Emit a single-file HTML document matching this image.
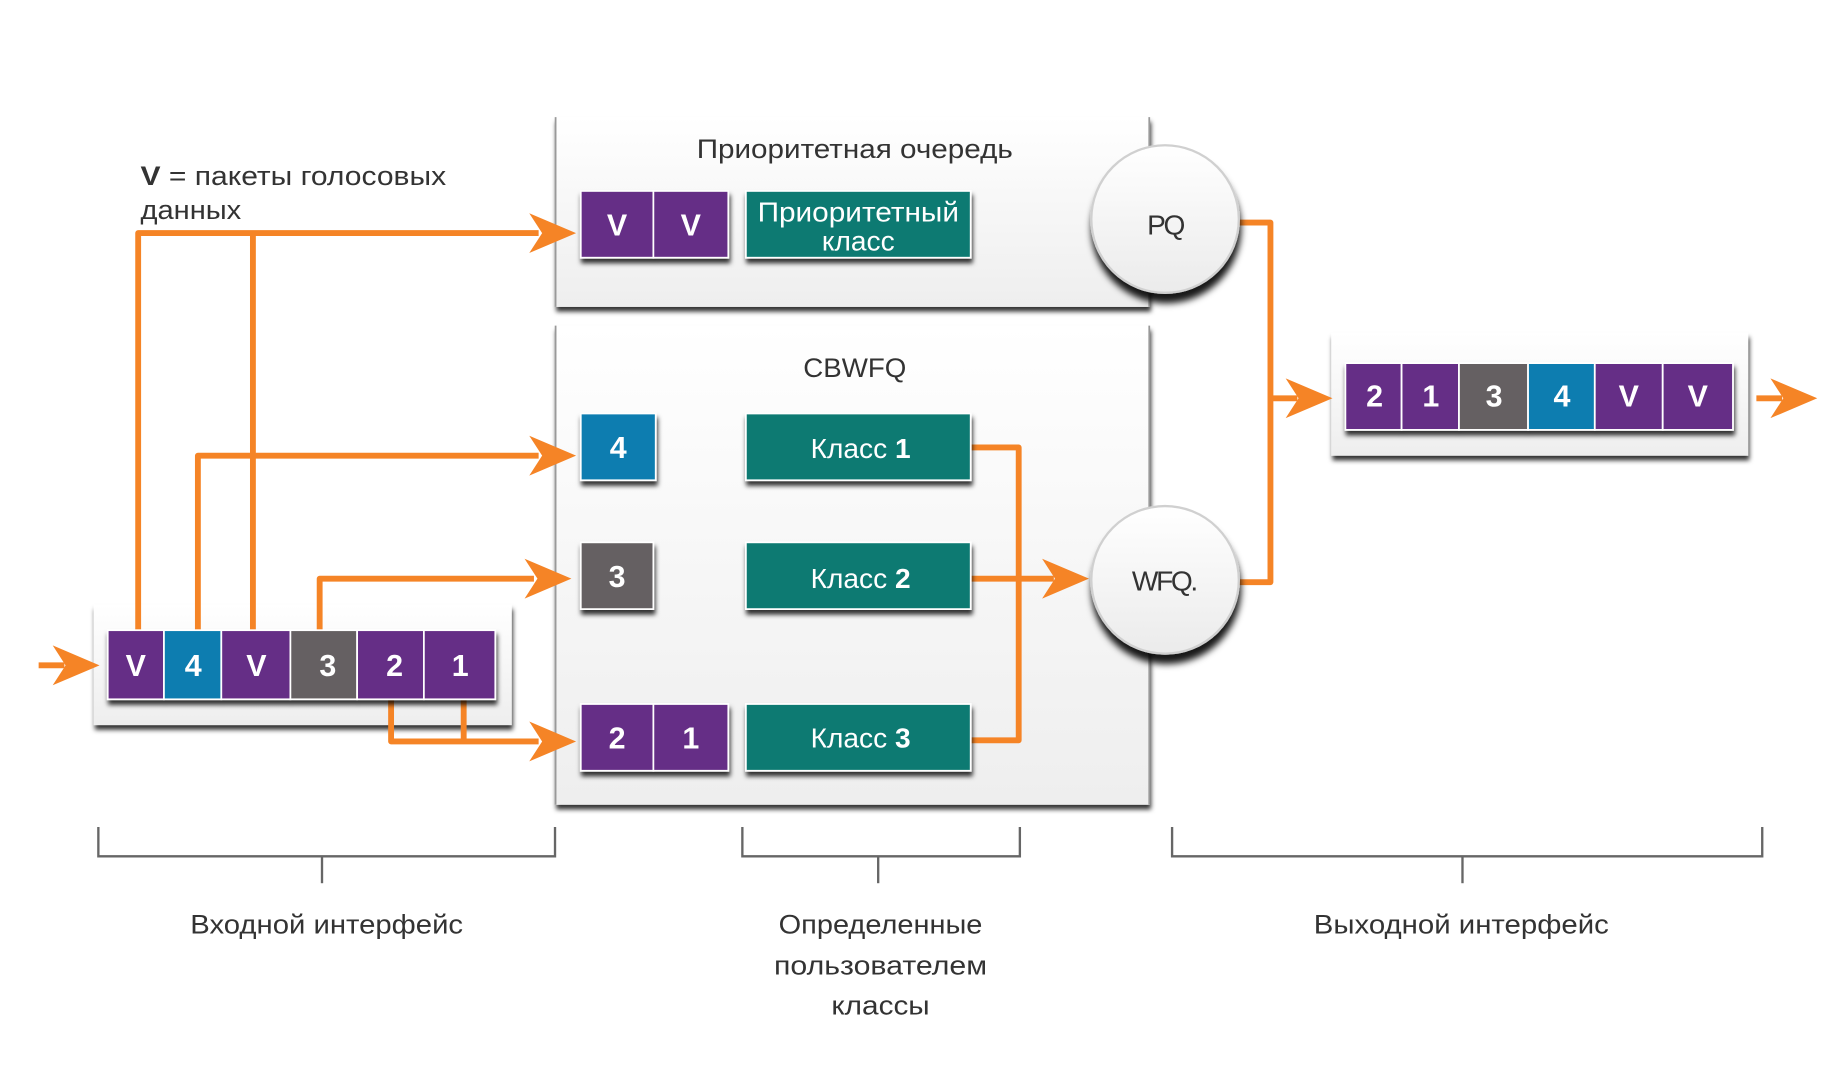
<!DOCTYPE html>
<html><head><meta charset="utf-8"><style>
html,body{margin:0;padding:0;background:#fff;}
svg{display:block;}
text{font-family:"Liberation Sans","DejaVu Sans",sans-serif;}
</style></head><body>
<svg width="1836" height="1080" viewBox="0 0 1568 922" preserveAspectRatio="none" xmlns="http://www.w3.org/2000/svg">
<defs>
<linearGradient id="pg" x1="0" y1="0" x2="0" y2="1"><stop offset="0" stop-color="#ffffff"/><stop offset="1" stop-color="#eeeeee"/></linearGradient>
<linearGradient id="cg" x1="0" y1="0" x2="0" y2="1"><stop offset="0" stop-color="#ffffff"/><stop offset="1" stop-color="#ebebeb"/></linearGradient>
<filter id="sh" x="-10%" y="-10%" width="130%" height="140%"><feDropShadow dx="1" dy="4" stdDeviation="2" flood-color="#000" flood-opacity="0.8"/></filter>
<filter id="csh" x="-20%" y="-20%" width="140%" height="150%"><feDropShadow dx="1" dy="8" stdDeviation="3" flood-color="#000" flood-opacity="0.9"/></filter>
<g id="ah"><polygon points="0,0 -40,-17 -29,0 -40,17" fill="#f58426"/></g>
</defs>

<!-- panels -->
<g filter="url(#sh)">
<rect x="474" y="100" width="508" height="162" fill="url(#pg)"/>
<rect x="474" y="278" width="508" height="409" fill="url(#pg)"/>
<rect x="80" y="516" width="357" height="103" fill="url(#pg)"/>
<rect x="1137" y="284" width="356" height="105" fill="url(#pg)"/>
</g>
<line x1="474.5" y1="100" x2="474.5" y2="262" stroke="#999" stroke-width="1.5"/>
<line x1="474.5" y1="278" x2="474.5" y2="687" stroke="#999" stroke-width="1.5"/>
<line x1="981.5" y1="100" x2="981.5" y2="262" stroke="#999" stroke-width="1.5"/>
<line x1="981.5" y1="278" x2="981.5" y2="687" stroke="#999" stroke-width="1.5"/>

<text x="730" y="135" font-size="23" fill="#333" text-anchor="middle" textLength="270" lengthAdjust="spacingAndGlyphs">Приоритетная очередь</text>
<text x="730" y="322" font-size="23" fill="#333" text-anchor="middle" textLength="88" lengthAdjust="spacingAndGlyphs">CBWFQ</text>
<text x="120" y="158" font-size="23" fill="#333" textLength="261" lengthAdjust="spacingAndGlyphs"><tspan font-weight="bold">V</tspan> = пакеты голосовых</text>
<text x="120" y="187" font-size="23" fill="#333" textLength="86" lengthAdjust="spacingAndGlyphs">данных</text>

<!-- orange connectors -->
<g stroke="#f58426" stroke-width="5" fill="none" stroke-linejoin="round">
<polyline points="118,538 118,199 460,199"/>
<polyline points="216,538 216,199"/>
<polyline points="169,538 169,389 460,389"/>
<polyline points="273,538 273,494 456,494"/>
<polyline points="334,597 334,633 460,633"/>
<polyline points="396,597 396,633"/>
<polyline points="33,568 55,568"/>
<polyline points="829,382 870,382 870,632 829,632"/>
<polyline points="829,494 900,494"/>
<polyline points="1055,190 1085,190 1085,497 1055,497"/>
<polyline points="1085,340 1108,340"/>
<polyline points="1500,340 1522,340"/>
</g>
<use href="#ah" x="492" y="199"/>
<use href="#ah" x="492" y="389"/>
<use href="#ah" x="488" y="494"/>
<use href="#ah" x="492" y="633"/>
<use href="#ah" x="85" y="568"/>
<use href="#ah" x="930" y="494"/>
<use href="#ah" x="1138" y="340"/>
<use href="#ah" x="1552" y="340"/>

<!-- boxes -->
<g filter="url(#sh)" stroke="#fff" stroke-width="1.5">
<rect x="496" y="163" width="62" height="57" fill="#652d86"/>
<rect x="558" y="163" width="64" height="57" fill="#652d86"/>
<rect x="637" y="163" width="192" height="57" fill="#0a7a72"/>
<rect x="496" y="353" width="64" height="57" fill="#077db0"/>
<rect x="496" y="463" width="62" height="57" fill="#656162"/>
<rect x="496" y="601" width="62" height="57" fill="#652d86"/>
<rect x="558" y="601" width="64" height="57" fill="#652d86"/>
<rect x="637" y="353" width="192" height="57" fill="#0a7a72"/>
<rect x="637" y="463" width="192" height="57" fill="#0a7a72"/>
<rect x="637" y="601" width="192" height="57" fill="#0a7a72"/>
<rect x="92" y="538" width="48" height="59" fill="#652d86"/>
<rect x="140" y="538" width="49" height="59" fill="#077db0"/>
<rect x="189" y="538" width="59" height="59" fill="#652d86"/>
<rect x="248" y="538" width="57" height="59" fill="#656162"/>
<rect x="305" y="538" width="57" height="59" fill="#652d86"/>
<rect x="362" y="538" width="61" height="59" fill="#652d86"/>
<rect x="1149" y="310" width="48" height="57" fill="#652d86"/>
<rect x="1197" y="310" width="49" height="57" fill="#652d86"/>
<rect x="1246" y="310" width="59" height="57" fill="#656162"/>
<rect x="1305" y="310" width="57" height="57" fill="#077db0"/>
<rect x="1362" y="310" width="58" height="57" fill="#652d86"/>
<rect x="1420" y="310" width="60" height="57" fill="#652d86"/>
</g>

<g fill="#fff" font-size="26" font-weight="bold" text-anchor="middle">
<text x="527" y="201">V</text><text x="590" y="201">V</text>
<text x="528" y="391">4</text><text x="527" y="501">3</text>
<text x="527" y="639">2</text><text x="590" y="639">1</text>
<text x="116" y="577">V</text><text x="165" y="577">4</text><text x="219" y="577">V</text>
<text x="280" y="577">3</text><text x="337" y="577">2</text><text x="393" y="577">1</text>
<text x="1174" y="347">2</text><text x="1222" y="347">1</text><text x="1276" y="347">3</text>
<text x="1334" y="347">4</text><text x="1391" y="347">V</text><text x="1450" y="347">V</text>
</g>
<g fill="#fff" font-size="24" text-anchor="middle">
<text x="733" y="189" textLength="172" lengthAdjust="spacingAndGlyphs">Приоритетный</text>
<text x="733" y="214">класс</text>
<text x="735" y="391">Класс <tspan font-weight="bold">1</tspan></text>
<text x="735" y="502">Класс <tspan font-weight="bold">2</tspan></text>
<text x="735" y="638">Класс <tspan font-weight="bold">3</tspan></text>
</g>

<!-- circles -->
<g filter="url(#csh)">
<circle cx="995" cy="187" r="63" fill="url(#cg)" stroke="#d0d0d0" stroke-width="2"/>
<circle cx="995" cy="495" r="63" fill="url(#cg)" stroke="#d0d0d0" stroke-width="2"/>
</g>
<text x="995" y="200" font-size="24" fill="#333" text-anchor="middle" letter-spacing="-2">PQ</text>
<text x="994" y="504" font-size="24" fill="#333" text-anchor="middle" letter-spacing="-2">WFQ.</text>

<!-- brackets -->
<g stroke="#666" stroke-width="2" fill="none">
<polyline points="84,706 84,731 474,731 474,706"/>
<line x1="275" y1="731" x2="275" y2="754"/>
<polyline points="634,706 634,731 871,731 871,706"/>
<line x1="750" y1="731" x2="750" y2="754"/>
<polyline points="1001,706 1001,731 1505,731 1505,706"/>
<line x1="1249" y1="731" x2="1249" y2="754"/>
</g>
<g font-size="23" fill="#333" text-anchor="middle">
<text x="279" y="797" textLength="233" lengthAdjust="spacingAndGlyphs">Входной интерфейс</text>
<text x="752" y="797" textLength="174" lengthAdjust="spacingAndGlyphs">Определенные</text>
<text x="752" y="832" textLength="182" lengthAdjust="spacingAndGlyphs">пользователем</text>
<text x="752" y="866" textLength="84" lengthAdjust="spacingAndGlyphs">классы</text>
<text x="1248" y="797" textLength="252" lengthAdjust="spacingAndGlyphs">Выходной интерфейс</text>
</g>
</svg>
</body></html>
